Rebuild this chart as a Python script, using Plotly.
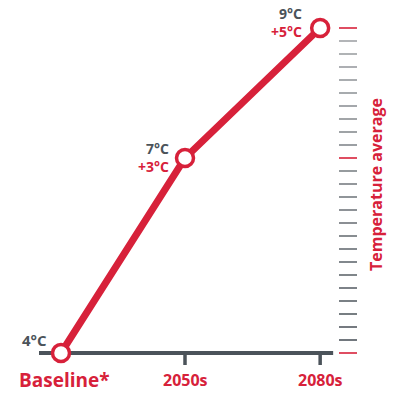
import numpy as np
import plotly.graph_objects as go

# Projected average temperature per period
periods = ["Baseline*", "2050s", "2080s"]
period_x = [0, 1, 2.09]
temps_c = [4, 7, 9]

RED = "#d7213a"
DARK = "#4b535a"
FONT = "Open Sans"

W, H = 396, 393
px_per_x = 124.0
px_per_deg = 65.0
x0_px, y0_px = 61.0, 353.0  # baseline point position on the canvas

x_range = [-x0_px / px_per_x, (W - x0_px) / px_per_x]
y_range = [temps_c[0] - (H - y0_px) / px_per_deg, temps_c[0] + y0_px / px_per_deg]

fig = go.Figure()

# main line with hollow markers
fig.add_trace(go.Scatter(
    x=period_x, y=temps_c, mode="lines+markers",
    line=dict(color=RED, width=7),
    marker=dict(size=17, color="white", line=dict(color=RED, width=3.5)),
    hoverinfo="skip", cliponaxis=False,
))

shapes = []
# horizontal axis line
shapes.append(dict(type="line", xref="x", yref="y",
                   x0=x_range[0] + 39 / px_per_x, x1=period_x[-1] + 13 / px_per_x,
                   y0=temps_c[0], y1=temps_c[0],
                   line=dict(color=DARK, width=4), layer="below"))
# ticks below the later periods
for xv in period_x[1:]:
    shapes.append(dict(type="line", xref="x", yref="y",
                       x0=xv, x1=xv, y0=temps_c[0], y1=temps_c[0] - 12 / px_per_deg,
                       line=dict(color=DARK, width=3.5), layer="below"))

# temperature scale dashes on the right (0.2 °C apart)
scale_vals = np.round(np.arange(temps_c[0], temps_c[-1] + 0.001, 0.2), 1)
lo = np.array([0x4b, 0x53, 0x5a])
hi = np.array([0xa4, 0xa7, 0xaa])
for v in scale_vals:
    if any(abs(v - t) < 1e-6 for t in temps_c):
        col = RED
    else:
        f = (v - temps_c[0]) / (temps_c[-1] - temps_c[0])
        c = (lo + (hi - lo) * f).astype(int)
        col = "rgb(%d,%d,%d)" % tuple(c)
    shapes.append(dict(type="line", xref="paper", yref="y",
                       x0=339 / W, x1=357 / W, y0=v, y1=v,
                       line=dict(color=col, width=1.6)))

annotations = []
# period labels
for xv, name in zip(period_x, periods):
    annotations.append(dict(x=xv, y=temps_c[0], xref="x", yref="y", text=name,
                            showarrow=False, yshift=-27, yanchor="middle", borderpad=0,
                            xshift=3 if name == periods[0] else 0,
                            font=dict(family=FONT, size=19 if name == periods[0] else 16,
                                      color=RED, weight="bold")))

# value labels
annotations.append(dict(x=period_x[0], y=temps_c[0], xref="x", yref="y",
                        text=f"{temps_c[0]}°C", showarrow=False, borderpad=0,
                        xanchor="right", xshift=-13, yshift=13, yanchor="middle",
                        font=dict(family=FONT, size=15, color=DARK, weight="bold")))
# two-line label (absolute / change vs. baseline) beside each later point
label_offsets = [(-15, 1), (-17, 6)]
for xv, t, (dx, dy) in zip(period_x[1:], temps_c[1:], label_offsets):
    text = (f"<span style='color:{DARK}'>{t}°C</span><br>"
            f"+{t - temps_c[0]}°C")
    annotations.append(dict(x=xv, y=t, xref="x", yref="y", text=text,
                            showarrow=False, xanchor="right", align="right",
                            xshift=dx, yshift=dy, yanchor="middle", borderpad=0,
                            font=dict(family=FONT, size=14, color=RED, weight="bold")))

# vertical axis title
annotations.append(dict(x=376 / W, y=1 - 185 / H, xref="paper", yref="paper",
                        text="Temperature average", textangle=-90, showarrow=False,
                        xanchor="center", yanchor="middle", borderpad=0,
                        font=dict(family=FONT, size=16, color=RED, weight="bold")))

fig.update_layout(
    width=W, height=H, margin=dict(l=0, r=0, t=0, b=0),
    paper_bgcolor="white", plot_bgcolor="white", showlegend=False,
    xaxis=dict(range=x_range, visible=False, fixedrange=True),
    yaxis=dict(range=y_range, visible=False, fixedrange=True),
    shapes=shapes, annotations=annotations,
)

fig.write_html("out.html", config={"displayModeBar": False})
